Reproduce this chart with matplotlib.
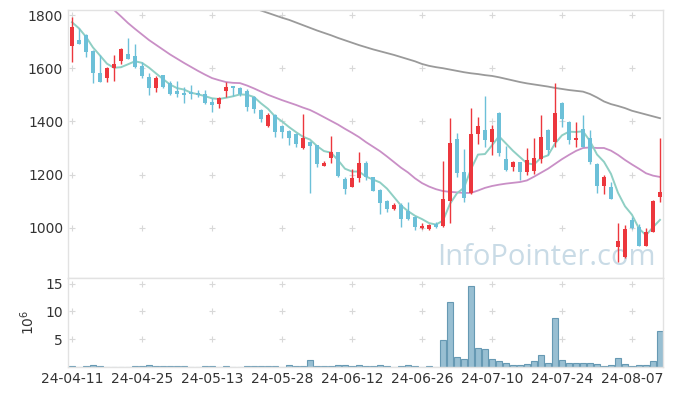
import numpy as np
import pandas as pd
import matplotlib
matplotlib.use("Agg")
import matplotlib.pyplot as plt

# trading days (KRX holidays removed)
holidays = ["2024-05-01", "2024-05-06", "2024-05-15", "2024-06-06"]
days = pd.bdate_range("2024-04-11", "2024-08-13")
days = days[~days.isin(pd.to_datetime(holidays))]
labels = [d.strftime("%y-%m-%d") for d in days]

opens = [1685, 1706, 1725, 1665, 1582, 1564, 1600, 1628, 1653, 1646,
         1608, 1567, 1527, 1574, 1543, 1514, 1508, 1512, 1507, 1502,
         1474, 1467, 1514, 1533, 1526, 1514, 1493, 1443, 1384, 1424,
         1383, 1364, 1353, 1299, 1324, 1311, 1234, 1261, 1284, 1183,
         1154, 1186, 1244, 1190, 1142, 1101, 1070, 1086, 1063, 1042,
         1000, 994, 1013, 1008, 1102, 1334, 1211, 1130, 1351, 1368,
         1324, 1433, 1259, 1230, 1247, 1211, 1213, 1257, 1368, 1324,
         1470, 1399, 1330, 1371, 1336, 1240, 1158, 1154, 929, 889,
         1029, 1004, 933, 985, 1117]
highs = [1791, 1750, 1727, 1667, 1650, 1606, 1650, 1677, 1712, 1691,
         1624, 1581, 1572, 1576, 1552, 1552, 1530, 1537, 1518, 1518,
         1487, 1491, 1549, 1535, 1530, 1520, 1497, 1445, 1430, 1426,
         1385, 1366, 1355, 1428, 1326, 1313, 1251, 1345, 1286, 1190,
         1221, 1286, 1251, 1192, 1146, 1103, 1094, 1092, 1096, 1044,
         1019, 1014, 1023, 1251, 1411, 1355, 1295, 1449, 1418, 1495,
         1386, 1435, 1307, 1252, 1249, 1299, 1336, 1424, 1370, 1543,
         1472, 1401, 1399, 1424, 1368, 1242, 1198, 1173, 1017, 1010,
         1042, 1014, 1000, 1103, 1336]
lows = [1624, 1690, 1641, 1543, 1547, 1549, 1552, 1615, 1634, 1600,
        1562, 1499, 1512, 1527, 1501, 1493, 1470, 1483, 1493, 1465,
        1436, 1451, 1491, 1497, 1495, 1440, 1430, 1397, 1378, 1342,
        1336, 1311, 1303, 1297, 1130, 1227, 1232, 1242, 1192, 1127,
        1152, 1173, 1180, 1138, 1051, 1061, 1068, 1004, 1029, 992,
        994, 992, 998, 1004, 1019, 1190, 1098, 1127, 1315, 1305,
        1274, 1270, 1215, 1215, 1180, 1198, 1202, 1243, 1274, 1305,
        1380, 1315, 1305, 1303, 1240, 1130, 1126, 1107, 870, 885,
        997, 932, 932, 983, 1098]
closes = [1756, 1692, 1662, 1581, 1549, 1601, 1616, 1672, 1636, 1606,
          1571, 1527, 1563, 1530, 1503, 1503, 1500, 1504, 1500, 1468,
          1462, 1487, 1528, 1527, 1504, 1455, 1445, 1409, 1424, 1361,
          1361, 1339, 1314, 1336, 1309, 1239, 1244, 1284, 1196, 1147,
          1186, 1244, 1190, 1140, 1092, 1070, 1085, 1032, 1034, 1004,
          1008, 1010, 1004, 1108, 1320, 1207, 1113, 1353, 1383, 1330,
          1371, 1283, 1217, 1246, 1211, 1255, 1261, 1342, 1292, 1433,
          1410, 1330, 1336, 1305, 1249, 1158, 1192, 1109, 950, 995,
          998, 933, 983, 1101, 1133]
prev_closes = [1807, 1822, 1781, 1699]  # closes before the window, for MA5

ma20 = [1960, 1940, 1915, 1890, 1865, 1842, 1819, 1795, 1770, 1748,
        1727, 1706, 1688, 1670, 1652, 1636, 1620, 1605, 1590, 1576,
        1563, 1555, 1548, 1545, 1544, 1535, 1524, 1512, 1500, 1490,
        1480, 1471, 1462, 1452, 1443, 1430, 1416, 1402, 1388, 1372,
        1357, 1341, 1322, 1305, 1288, 1268, 1247, 1226, 1208, 1186,
        1168, 1155, 1145, 1138, 1135, 1133, 1131, 1131, 1140, 1150,
        1157, 1162, 1166, 1169, 1172, 1178, 1192, 1207, 1222, 1240,
        1258, 1274, 1289, 1300, 1302, 1300, 1300, 1290, 1274, 1255,
        1238, 1222, 1205, 1196, 1191]
ma120 = [2060, 2051, 2042, 2033, 2024, 2015, 2006, 1997, 1988, 1979,
         1970, 1961, 1952, 1943, 1934, 1925, 1916, 1907, 1898, 1889,
         1880, 1871, 1862, 1853, 1844, 1835, 1826, 1817, 1808, 1799,
         1790, 1782, 1772, 1762, 1752, 1742, 1733, 1724, 1714, 1705,
         1696, 1687, 1679, 1671, 1664, 1657, 1650, 1642, 1634, 1626,
         1616, 1609, 1604, 1600, 1595, 1590, 1585, 1581, 1578, 1574,
         1571, 1566, 1560, 1554, 1548, 1543, 1539, 1535, 1531, 1526,
         1522, 1518, 1515, 1512, 1503, 1490, 1475, 1465, 1458, 1450,
         1440, 1433, 1426, 1419, 1412]

# volume in millions
volume = [0.2, 0, 0.15, 0.35, 0.15, 0, 0, 0, 0, 0.15,
          0.15, 0.35, 0.15, 0.15, 0.15, 0.15, 0.15, 0, 0, 0.15,
          0.15, 0, 0.15, 0, 0, 0.15, 0.15, 0.15, 0.15, 0.15,
          0, 0.35, 0.15, 0.15, 1.25, 0.15, 0.15, 0.15, 0.35, 0.3,
          0.15, 0.3, 0.15, 0.15, 0.3, 0.15, 0, 0.15, 0.35, 0.15,
          0, 0.15, 0, 4.9, 11.6, 1.75, 1.4, 14.6, 3.35, 3.2,
          1.4, 1.1, 0.65, 0.3, 0.3, 0.5, 1.1, 2.1, 0.65, 8.75,
          1.25, 0.65, 0.65, 0.65, 0.65, 0.5, 0.2, 0.3, 1.55, 0.5,
          0.2, 0.3, 0.3, 1.1, 6.4]

RED = "#ec373d"
BLUE = "#6cc0d8"
GRID = "#d8d8d8"
TXT = "#333333"

o = np.array(opens); h = np.array(highs); l = np.array(lows); c = np.array(closes)
x = np.arange(len(c))
allc = np.concatenate([prev_closes, c])
ma5 = np.convolve(allc, np.ones(5) / 5, mode="valid")

fig = plt.figure(figsize=(6.73, 3.96), dpi=100)
ax = fig.add_axes([68 / 673, 1 - 278 / 396, 595 / 673, 268 / 396])
axv = fig.add_axes([68 / 673, 1 - 367 / 396, 595 / 673, 89 / 396], sharex=ax)

ax.set_xlim(-0.57, 84.43)
ax.set_ylim(811, 1819)

# watermark
ax.text(0.987, 0.048, "InfoPointer.com", transform=ax.transAxes, ha="right",
        va="baseline", fontsize=21, color="#c9dbe6", family="Open Sans", zorder=1)

# grid crosses
ticks_x = np.arange(0, len(c), 10)
yt = [1000, 1200, 1400, 1600, 1800]
gx, gy = np.meshgrid(ticks_x, yt)
ax.scatter(gx.ravel(), gy.ravel(), marker="+", s=22, color=GRID, lw=0.8, zorder=1)
vt = [5, 10, 15]
gx2, gy2 = np.meshgrid(ticks_x, vt)
axv.scatter(gx2.ravel(), gy2.ravel(), marker="+", s=22, color=GRID, lw=0.8, zorder=1)

# moving averages
ax.plot(x, ma120, color="#9a9a9a", lw=1.3, zorder=2)
ax.plot(x, ma20, color="#c98fc6", lw=1.3, zorder=2)
ax.plot(x, ma5, color="#8fcfc4", lw=1.4, zorder=2)

# candles
up = c >= o
cols = np.where(up, RED, BLUE)
ax.vlines(x, l, h, colors=cols, lw=1.0, zorder=3)
body_lo = np.minimum(o, c)
body_h = np.maximum(np.abs(c - o), 3)
ax.bar(x, body_h, bottom=body_lo, width=0.68, color=cols, lw=0, zorder=4)

# volume
axv.bar(x, volume, width=0.95, color="#98bfd2", edgecolor="#6699b3", lw=0.8, zorder=2)
axv.set_ylim(0, 16)

for a in (ax, axv):
    for s in a.spines.values():
        s.set_color("#e2e2e2")
        s.set_linewidth(1.0)
    a.tick_params(length=0, colors=TXT, labelsize=10)

ax.set_yticks(yt)
ax.set_yticklabels([str(v) for v in yt])
ax.tick_params(axis="x", labelbottom=False)
axv.set_yticks(vt)
axv.set_yticklabels([str(v) for v in vt])
axv.set_xticks(ticks_x)
axv.set_xticklabels([labels[i] for i in ticks_x])
axv.set_ylabel(r"$10^6$", color=TXT, fontsize=10, labelpad=6)

fig.savefig("out.png", dpi=100)
